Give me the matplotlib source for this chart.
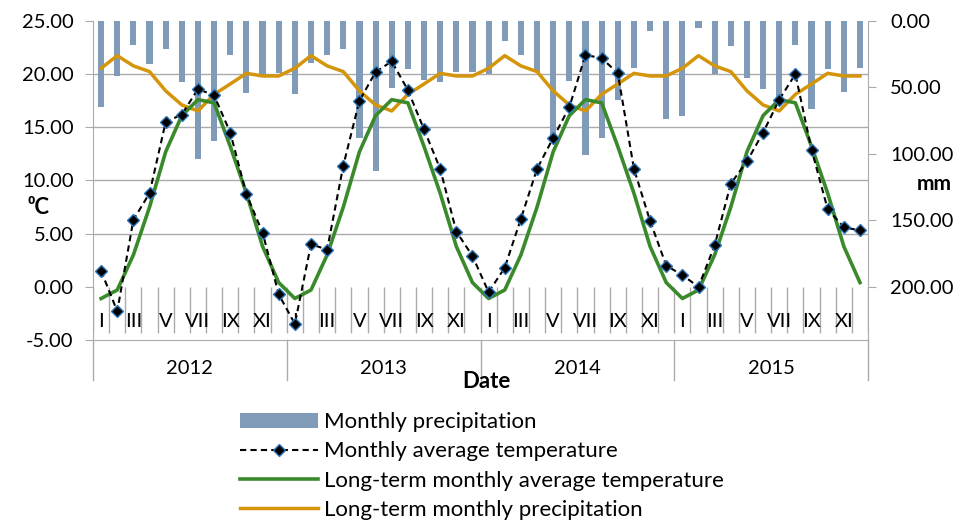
import numpy as np
import matplotlib
matplotlib.use('Agg')
import matplotlib.pyplot as plt
from matplotlib.transforms import blended_transform_factory

plt.rcParams['font.family'] = ['Lato', 'DejaVu Sans']

# data
years = ['2012', '2013', '2014', '2015']
month_names = ['I', 'II', 'III', 'IV', 'V', 'VI', 'VII', 'VIII', 'IX', 'X', 'XI', 'XII']

# monthly precipitation, mm (Jan 2012 .. Dec 2015)
precip = [64.9, 41.4, 18.3, 32.6, 21.3, 46.1, 103.8, 90.5, 25.6, 53.9, 41.4, 39.4,
          54.9, 31.8, 25.6, 21.1, 88.2, 112.6, 50.6, 36.1, 44.4, 46.1, 38.1, 38.1,
          39.9, 14.8, 25.6, 38.1, 88.2, 45.1, 100.8, 88.2, 59.4, 35.1, 7.5, 74.0,
          71.2, 5.0, 40.1, 18.6, 42.6, 51.4, 63.2, 18.0, 66.4, 36.1, 53.4, 35.1]

# monthly average temperature, deg C
temp = [1.5, -2.3, 6.3, 8.8, 15.5, 16.2, 18.6, 18.0, 14.5, 8.7, 5.1, -0.7,
        -3.5, 4.0, 3.5, 11.4, 17.5, 20.2, 21.2, 18.5, 14.8, 11.1, 5.2, 2.9,
        -0.5, 1.8, 6.4, 11.1, 14.0, 16.9, 21.8, 21.5, 20.1, 11.1, 6.2, 2.0,
        1.1, 0.0, 3.9, 9.7, 11.8, 14.5, 17.6, 20.0, 12.9, 7.3, 5.6, 5.3]

# long-term monthly normals (same every year)
lt_temp = [-1.1, -0.3, 3.0, 7.5, 12.7, 16.1, 17.6, 17.3, 13.2, 8.8, 3.8, 0.4]
lt_precip = [35.6, 26.1, 33.8, 38.1, 52.6, 63.2, 67.7, 55.2, 47.4, 39.4, 41.4, 41.4]

lt_temp_all = lt_temp * len(years)
lt_precip_all = lt_precip * len(years)

bar_col = '#7F9BB8'
orange = '#D4950A'
green = '#3A8A2B'
grid_col = '#ABABAB'
fs = 14.5

fig = plt.figure(figsize=(9.66, 5.2), dpi=100)
ax = fig.add_axes([0.0963, 0.3462, 0.8023, 0.6135])
ax2 = ax.twinx()
ax.set_zorder(2)
ax2.set_zorder(1)
ax.patch.set_visible(False)

n = len(temp)
x = np.arange(n) + 0.5

# secondary axis: precipitation (inverted, 0 mm at top)
b = ax2.bar(x, precip, width=0.38, color=bar_col, zorder=2, label='Monthly precipitation')
l4, = ax2.plot(x, lt_precip_all, color=orange, lw=2.5, zorder=3,
               label='Long-term monthly precipitation')
ax2.set_ylim(240, 0)
rt = [0, 50, 100, 150, 200]
ax2.set_yticks(rt)
ax2.set_yticklabels(['%.2f' % v for v in rt])
# gridlines follow the temperature ticks (25, 20, ... 0 degC)
ax2.set_yticks(np.arange(0, 201, 40), minor=True)
ax2.yaxis.grid(True, which='minor', color=grid_col, lw=1)
ax2.tick_params(axis='y', which='minor', length=0)
ax2.set_axisbelow(True)

# primary axis: temperature
l2, = ax.plot(x, temp, color='black', ls=(0, (3, 2)), lw=1.5, marker='D', ms=6.5,
              mfc='black', mec='#2E75B6', mew=1, zorder=4,
              label='Monthly average temperature')
l3, = ax.plot(x, lt_temp_all, color=green, lw=2.6, zorder=3,
              label='Long-term monthly average temperature')
ax.set_xlim(0, n)
ax.set_ylim(-5, 25)
yt = np.arange(-5, 26, 5)
ax.set_yticks(yt)
ax.set_yticklabels(['%.2f' % v for v in yt])
ax.set_xticks([])

for a in (ax, ax2):
    for s in a.spines.values():
        s.set_visible(False)
ax.spines['left'].set_visible(True)
ax.spines['left'].set_color(grid_col)
ax.spines['bottom'].set_visible(True)
ax.spines['bottom'].set_color(grid_col)
ax2.spines['right'].set_visible(True)
ax2.spines['right'].set_color(grid_col)

ax.tick_params(axis='y', direction='out', length=6, color=grid_col, labelsize=fs, pad=8)
ax2.tick_params(axis='y', which='major', direction='out', length=6, color=grid_col,
                labelsize=fs, pad=10)

# multi-level category axis: months inside, years below
ax.vlines(np.arange(0, n + 1), -4.35, 0, color=grid_col, lw=1, zorder=1)
for i in range(n):
    if i % 2 == 0:
        ax.text(x[i], -3.25, month_names[i % 12], ha='center', va='center', fontsize=fs)

trans = blended_transform_factory(ax.transData, ax.transAxes)
for k in range(len(years) + 1):
    ax.plot([k * 12, k * 12], [-0.125, 0], color=grid_col, lw=1, transform=trans,
            clip_on=False)
for k, yr in enumerate(years):
    ax.text(k * 12 + 6, -0.088, yr, ha='center', va='center', fontsize=fs, transform=trans)

ax.text(0.508, -0.13, 'Date', ha='center', va='center', fontsize=16, fontweight='bold',
        transform=ax.transAxes)
fig.text(0.040, 1 - 208 / 520, '\u2070C', ha='center', va='center', fontsize=16,
         fontweight='bold')
fig.text(0.985, 1 - 184 / 520, 'mm', ha='right', va='center', fontsize=15,
         fontweight='bold')

fig.legend([b, l2, l3, l4], [h.get_label() for h in [b, l2, l3, l4]],
           loc='upper left', bbox_to_anchor=(0.2484, 0.207), frameon=False,
           fontsize=16, handlelength=3.5, handletextpad=0.3, labelspacing=0.41,
           borderpad=0, borderaxespad=0)

fig.savefig('out.png', dpi=100)
